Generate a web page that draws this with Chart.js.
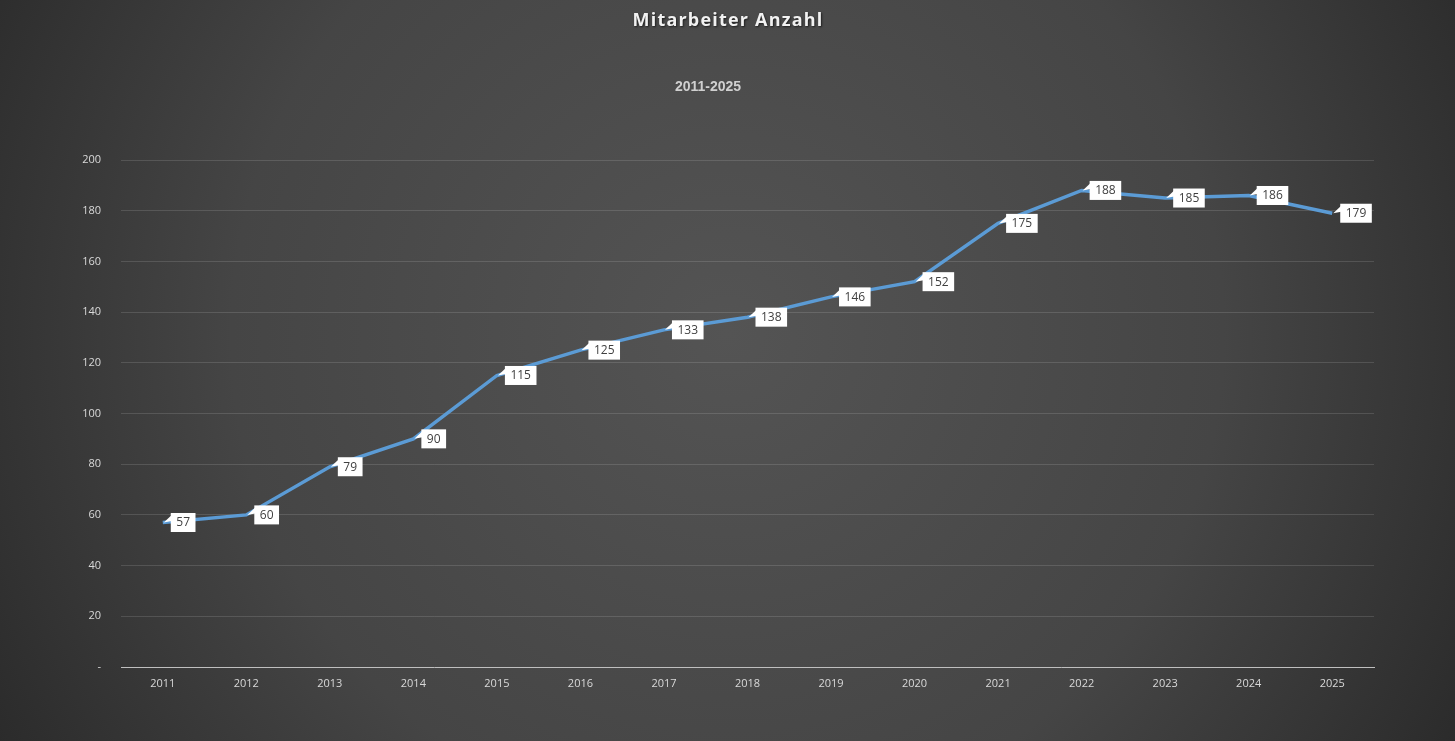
<!DOCTYPE html>
<html>
<head>
<meta charset="utf-8">
<title>Mitarbeiter Anzahl</title>
<script src="https://cdn.jsdelivr.net/npm/chart.js@4.4.1/dist/chart.umd.min.js"></script>
<style>
  html, body { margin: 0; padding: 0; background: #3a3a3a; }
  #wrap { width: 1455px; height: 741px; }
</style>
</head>
<body>
<div id="wrap"><canvas id="staffChart" width="1455" height="741"></canvas></div>
<script>
// Data
const years = ['2011', '2012', '2013', '2014', '2015', '2016', '2017', '2018',
               '2019', '2020', '2021', '2022', '2023', '2024', '2025'];
const staffCount = [57, 60, 79, 90, 115, 125, 133, 138, 146, 152, 175, 188, 185, 186, 179];
const yTicks = [0, 20, 40, 60, 80, 100, 120, 140, 160, 180, 200];

const titleText = 'Mitarbeiter Anzahl';
const subtitleText = '2011-2025';

// background gradient like the office chart style
const backgroundPlugin = {
    id: 'bg',
    beforeDraw(chart) {
        const ctx = chart.ctx;
        const w = chart.width, h = chart.height;
        ctx.save();
        const g = ctx.createRadialGradient(w / 2, h * 0.45, 0, w / 2, h * 0.45, w * 0.62);
        g.addColorStop(0, '#545454');
        g.addColorStop(0.55, '#454545');
        g.addColorStop(1, '#262626');
        ctx.fillStyle = g;
        ctx.fillRect(0, 0, w, h);
        ctx.restore();
    }
};

// titles drawn by hand so their position is fixed
const titlePlugin = {
    id: 'titles',
    afterDraw(chart) {
        const ctx = chart.ctx;
        ctx.save();
        ctx.textAlign = 'center';
        ctx.textBaseline = 'middle';
        ctx.shadowColor = 'rgba(0,0,0,0.6)';
        ctx.shadowOffsetX = 1;
        ctx.shadowOffsetY = 1;
        ctx.shadowBlur = 2;
        ctx.fillStyle = '#f2f2f2';
        ctx.font = 'bold 18px "Open Sans", "DejaVu Sans", sans-serif';
        if ('letterSpacing' in ctx) ctx.letterSpacing = '1.2px';
        ctx.fillText(titleText, 728, 21);
        if ('letterSpacing' in ctx) ctx.letterSpacing = '0px';
        ctx.shadowColor = 'transparent';
        ctx.fillStyle = '#d0d0d0';
        ctx.font = 'bold 14px "Liberation Sans", Arial, sans-serif';
        ctx.fillText(subtitleText, 708, 87);
        ctx.restore();
    }
};

// white callout labels to the right of each point
const calloutPlugin = {
    id: 'callouts',
    afterDatasetsDraw(chart) {
        const ctx = chart.ctx;
        const meta = chart.getDatasetMeta(0);
        ctx.save();
        ctx.font = '12px "Open Sans", "DejaVu Sans", sans-serif';
        ctx.textBaseline = 'middle';
        ctx.textAlign = 'center';
        meta.data.forEach((pt, i) => {
            const txt = String(chart.data.datasets[0].data[i]);
            const tw = ctx.measureText(txt).width;
            const bw = tw + 11;
            const bh = 19;
            const bx = pt.x + 8;
            const by = pt.y - bh / 2;
            ctx.fillStyle = '#ffffff';
            // pointer
            ctx.beginPath();
            ctx.moveTo(pt.x + 1, pt.y);
            ctx.lineTo(bx + 1, by + 2);
            ctx.lineTo(bx + 1, by + 8);
            ctx.closePath();
            ctx.fill();
            ctx.fillRect(bx, by, bw, bh);
            ctx.fillStyle = '#404040';
            ctx.fillText(txt, bx + bw / 2, pt.y + 0.5);
        });
        ctx.restore();
    }
};

const staffChart = new Chart(document.getElementById('staffChart'), {
    type: 'line',
    data: {
        labels: years,
        datasets: [{
            label: 'Mitarbeiter',
            data: staffCount,
            borderColor: '#5b9bd5',
            backgroundColor: '#5b9bd5',
            borderWidth: 3.5,
            pointRadius: 0,
            pointHoverRadius: 0,
            tension: 0,
            fill: false
        }]
    },
    options: {
        responsive: false,
        animation: false,
        layout: {
            padding: { top: 160, left: 0, right: 81, bottom: 44 }
        },
        plugins: {
            legend: { display: false },
            title: { display: false },
            tooltip: { enabled: false }
        },
        scales: {
            x: {
                offset: true,
                grid: { display: false, drawTicks: false },
                border: { display: true, color: '#bfbfbf', width: 1 },
                ticks: {
                    color: '#d9d9d9',
                    padding: 10,
                    maxRotation: 0,
                    autoSkip: false,
                    font: { size: 11, family: '"Open Sans", "DejaVu Sans", sans-serif' }
                },
                afterFit(scale) { scale.height = 30; }
            },
            y: {
                min: 0,
                max: 200,
                afterBuildTicks(scale) {
                    scale.ticks = yTicks.map(v => ({ value: v }));
                },
                grid: {
                    color: 'rgba(255,255,255,0.13)',
                    drawTicks: false
                },
                border: { display: false },
                ticks: {
                    color: '#d9d9d9',
                    padding: 20,
                    font: { size: 11, family: '"Open Sans", "DejaVu Sans", sans-serif' },
                    callback: v => (v === 0 ? '-' : v)
                },
                afterFit(scale) { scale.width = 121; }
            }
        }
    },
    plugins: [backgroundPlugin, titlePlugin, calloutPlugin]
});
</script>
</body>
</html>
